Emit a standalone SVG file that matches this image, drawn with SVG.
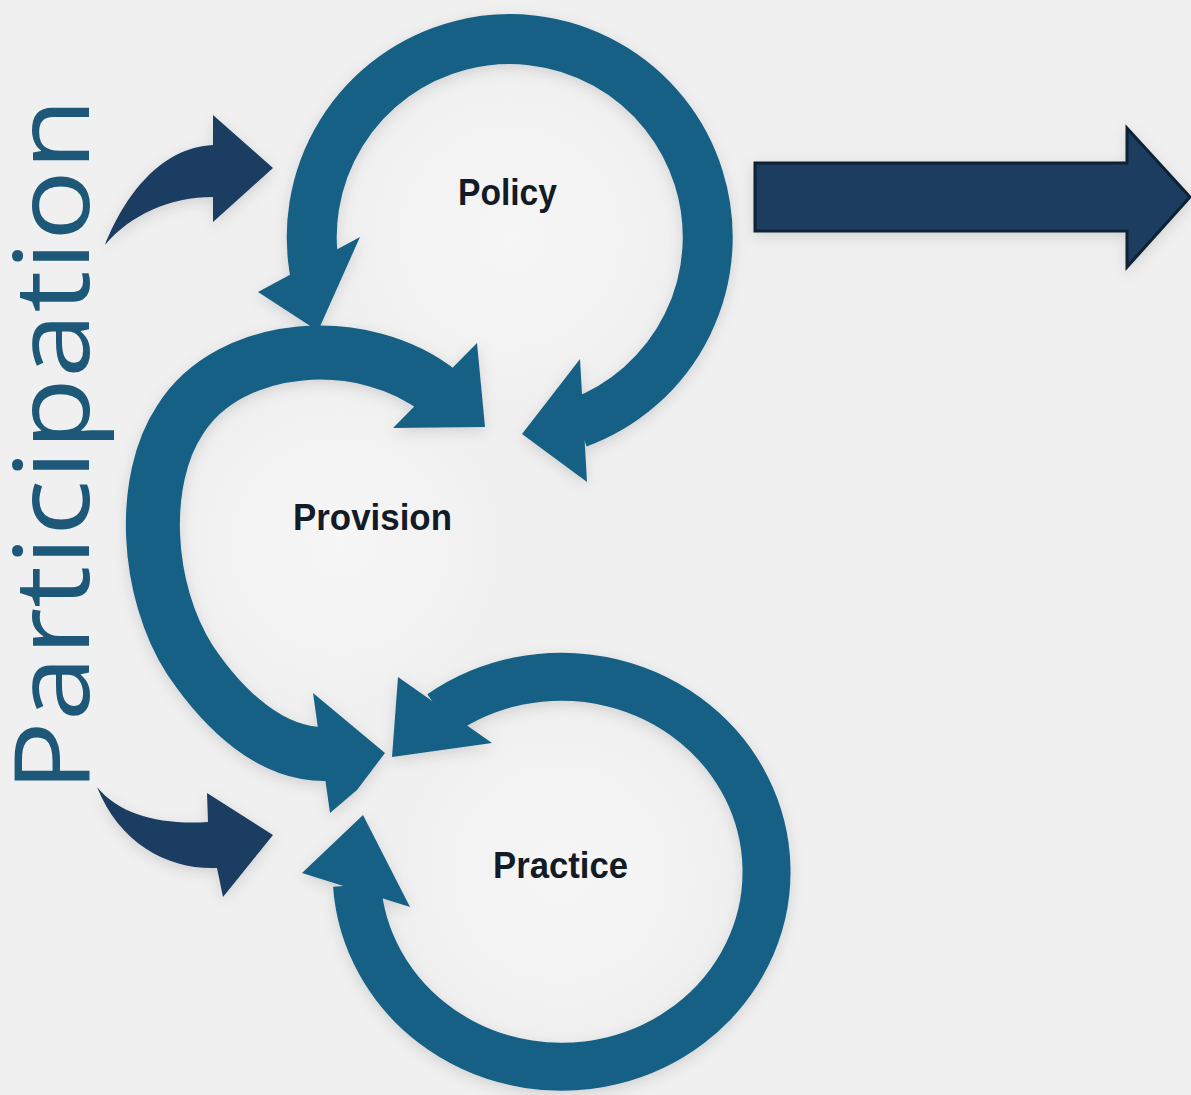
<svg xmlns="http://www.w3.org/2000/svg" width="1191" height="1095" viewBox="0 0 1191 1095">
  <defs>
    <style>
      .ring { fill: none; stroke: #196185; stroke-linecap: butt; }
      .head { fill: #196185; }
      .navy { fill: #1b3c62; }
      .label { font-family: "Liberation Sans", Arial, sans-serif; font-weight: bold; font-size: 36px; fill: #121b26; }
      .side { font-family: "Open Sans", "Liberation Sans", sans-serif; font-size: 105px; fill: #1d5878; }
    </style>
    <filter id="sh" x="-20%" y="-20%" width="140%" height="140%">
      <feDropShadow dx="0" dy="4" stdDeviation="7" flood-color="#000" flood-opacity="0.13"/>
    </filter>
    <radialGradient id="glow" cx="50%" cy="50%" r="50%">
      <stop offset="0" stop-color="#f6f6f6"/>
      <stop offset="1" stop-color="#f0f0f0"/>
    </radialGradient>
  </defs>
  <rect x="0" y="0" width="1191" height="1095" fill="#f0f0f0"/>
  <circle cx="510" cy="237" r="175" fill="url(#glow)"/>
  <circle cx="340" cy="545" r="170" fill="url(#glow)"/>
  <circle cx="560" cy="873" r="170" fill="url(#glow)"/>

  <g id="connectors" filter="url(#sh)">
    <g id="policy-cycle">
      <path class="ring" stroke-width="50" d="M 316,278 A 198 198 0 1 1 578,423"/>
      <polygon class="head" points="258,292 360,237 318,331"/>
      <polygon class="head" points="580,359 587,482 522,434"/>
    </g>
    <g id="practice-cycle">
      <path class="ring" stroke-width="48" d="M 441,714 A 205 195 0 1 1 357,885"/>
      <polygon class="head" points="398,677 492,743 392,757"/>
      <polygon class="head" points="302,873 363,815 410,907"/>
    </g>
    <g id="provision-cycle">
      <path class="ring" stroke-width="54" d="M 440,392 C 365,332 230,340 180,420 C 140,480 145,590 190,660 C 225,712 272,755 326,754"/>
      <polygon class="head" points="477,343 485,427 393,428"/>
      <polygon class="head" points="313,693 385,753 357,790 330,813"/>
    </g>
    <g id="participation-arrows">
      <path class="navy" d="M 105,245 C 125,195 160,148 213,145 L 213,115 L 273,168 L 213,222 L 213,197 C 170,197 130,215 105,245 Z"/>
      <path class="navy" d="M 97,787 C 120,815 160,825 208,822 L 207,793 L 273,835 L 223,897 L 217,868 C 170,870 120,845 97,787 Z"/>
    </g>
    <g id="outcome-arrow">
      <polygon points="755,163 1127,163 1127,128 1190,197 1127,267 1127,231 755,231" fill="#1a3c61" stroke="#0b2133" stroke-width="3" stroke-linejoin="miter"/>
    </g>
  </g>

  <g id="node-policy">
    <text class="label" x="458" y="205" textLength="99" lengthAdjust="spacingAndGlyphs">Policy</text>
  </g>
  <g id="node-provision">
    <text class="label" x="293" y="530" textLength="159" lengthAdjust="spacingAndGlyphs">Provision</text>
  </g>
  <g id="node-practice">
    <text class="label" x="493" y="878" textLength="135" lengthAdjust="spacingAndGlyphs">Practice</text>
  </g>
  <g id="node-participation">
    <text class="side" transform="translate(89,792) rotate(-90)" x="0" y="0" textLength="694" lengthAdjust="spacingAndGlyphs">Participation</text>
  </g>
</svg>
